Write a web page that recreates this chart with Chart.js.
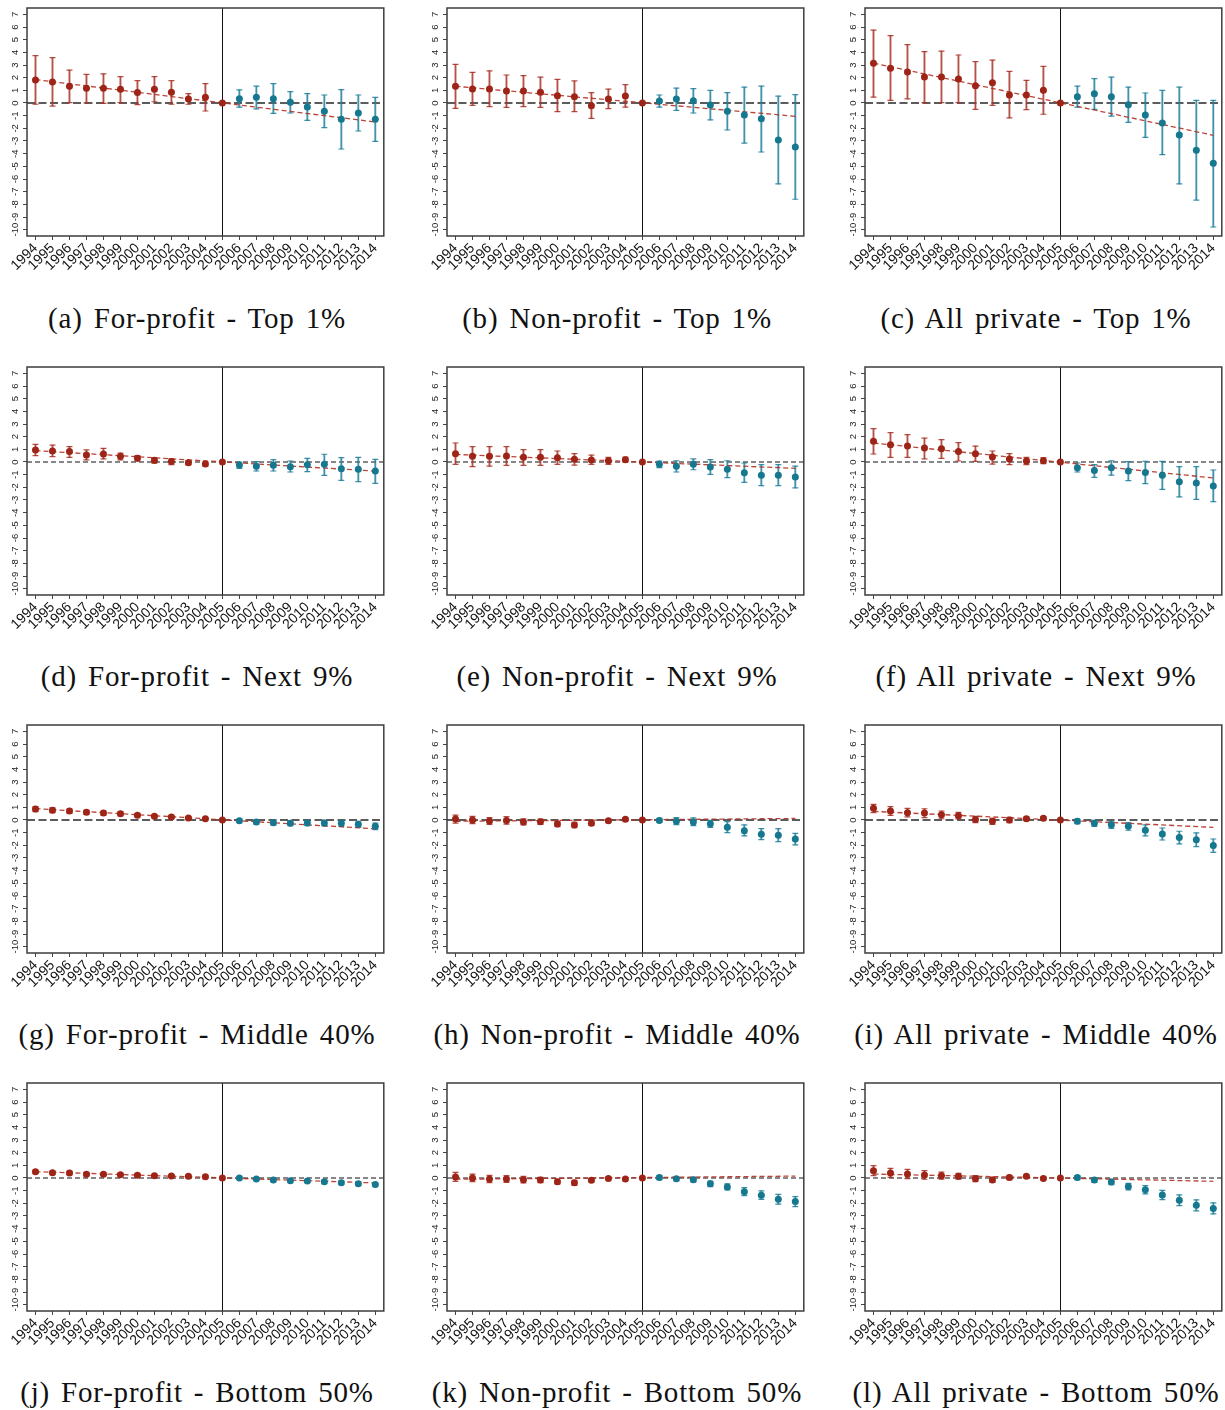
<!DOCTYPE html>
<html>
<head>
<meta charset="utf-8">
<script src="https://cdn.jsdelivr.net/npm/chart.js@4/dist/chart.umd.min.js"></script>
<style>
  html, body { margin: 0; padding: 0; background: #fff; }
  body { width: 1225px; height: 1410px; position: relative; overflow: hidden; }
  canvas.panel { position: absolute; }
  .caption {
    position: absolute; width: 440px; text-align: center;
    font-family: "Liberation Serif", "DejaVu Serif", serif; font-size: 29px;
    letter-spacing: 0.8px; word-spacing: 3px;
    color: #111; line-height: 32px; white-space: nowrap;
  }
</style>
</head>
<body>
<script>
// ---- axis values ----
const years = ['1994','1995','1996','1997','1998','1999','2000','2001','2002','2003','2004',
               '2005','2006','2007','2008','2009','2010','2011','2012','2013','2014'];
const eventYear = '2005';
const yTicks = [-10,-9,-8,-7,-6,-5,-4,-3,-2,-1,0,1,2,3,4,5,6,7];

// ---- estimates, confidence bounds and pre-trend line (start 1994, end 2014) ----
// (a) For-profit - Top 1%
const fpTop1    = [1.82,1.66,1.32,1.16,1.16,1.08,0.82,1.08,0.84,0.32,0.45,0,0.34,0.45,0.34,0.05,-0.32,-0.66,-1.29,-0.79,-1.29];
const fpTop1Hi  = [3.74,3.58,2.6,2.26,2.3,2.08,1.76,2.08,1.76,0.74,1.53,null,1.03,1.34,1.53,0.9,0.74,0.63,1.05,0.63,0.45];
const fpTop1Lo  = [-0.1,-0.24,0.03,0.0,-0.03,0.03,-0.13,0.1,-0.1,-0.1,-0.63,null,-0.32,-0.47,-0.82,-0.79,-1.37,-1.95,-3.63,-2.21,-3.03];
const fpTop1Trend = [1.85,-1.5];
// (b) Non-profit - Top 1%
const npTop1    = [1.32,1.1,1.1,0.95,0.95,0.84,0.58,0.5,-0.21,0.32,0.55,0,0.16,0.32,0.18,-0.16,-0.66,-0.95,-1.24,-2.92,-3.47];
const npTop1Hi  = [3.05,2.42,2.53,2.21,2.16,2.05,1.87,1.74,0.82,1.1,1.45,null,0.63,1.18,1.13,1.0,0.82,1.26,1.34,0.55,0.66];
const npTop1Lo  = [-0.42,-0.18,-0.29,-0.34,-0.29,-0.34,-0.68,-0.68,-1.21,-0.45,-0.32,null,-0.32,-0.58,-0.79,-1.34,-2.13,-3.16,-3.87,-6.39,-7.6];
const npTop1Trend = [1.32,-1.05];
// (c) All private - Top 1%
const apTop1    = [3.13,2.74,2.45,2.05,2.05,1.89,1.37,1.6,0.63,0.63,1.0,0,0.5,0.74,0.5,-0.13,-0.95,-1.58,-2.53,-3.74,-4.76];
const apTop1Hi  = [5.76,5.32,4.61,4.05,4.1,3.79,3.26,3.39,2.5,1.79,2.89,null,1.34,1.92,2.05,1.26,0.79,1.0,1.26,0.21,0.21];
const apTop1Lo  = [0.47,0.21,0.32,0.03,0.03,0.03,-0.5,-0.18,-1.18,-0.53,-0.89,null,-0.32,-0.5,-1.03,-1.53,-2.71,-4.08,-6.39,-7.66,-9.79];
const apTop1Trend = [3.15,-2.55];
// (d) For-profit - Next 9%
const fpNext9   = [0.95,0.87,0.82,0.55,0.63,0.45,0.29,0.13,0.03,-0.05,-0.16,0,-0.24,-0.34,-0.26,-0.37,-0.21,-0.18,-0.53,-0.58,-0.71];
const fpNext9Hi = [1.39,1.34,1.21,0.95,1.08,0.71,0.5,0.32,0.24,0.1,0.0,null,0.0,0.03,0.18,0.08,0.29,0.61,0.34,0.37,0.21];
const fpNext9Lo = [0.5,0.42,0.37,0.16,0.24,0.16,0.08,-0.1,-0.21,-0.21,-0.32,null,-0.5,-0.71,-0.71,-0.79,-0.76,-1.05,-1.45,-1.55,-1.68];
const fpNext9Trend = [0.9,-0.72];
// (e) Non-profit - Next 9%
const npNext9   = [0.66,0.45,0.45,0.47,0.37,0.37,0.34,0.21,0.16,0.1,0.18,0,-0.18,-0.34,-0.18,-0.39,-0.58,-0.84,-1.05,-1.05,-1.18];
const npNext9Hi = [1.5,1.21,1.21,1.21,0.97,0.97,0.87,0.66,0.55,0.37,0.39,null,0.08,0.1,0.24,0.18,0.1,-0.08,-0.21,-0.21,-0.32];
const npNext9Lo = [-0.18,-0.37,-0.32,-0.26,-0.26,-0.26,-0.18,-0.24,-0.18,-0.18,0.0,null,-0.45,-0.79,-0.61,-0.97,-1.24,-1.61,-1.87,-1.87,-2.05];
const npNext9Trend = [0.6,-0.5];
// (f) All private - Next 9%
const apNext9   = [1.63,1.37,1.26,1.1,1.05,0.82,0.66,0.39,0.24,0.08,0.1,0,-0.45,-0.68,-0.45,-0.71,-0.82,-1.05,-1.55,-1.66,-1.89];
const apNext9Hi = [2.63,2.32,2.16,1.89,1.76,1.53,1.26,0.87,0.66,0.37,0.34,null,-0.08,-0.21,0.1,0.03,0.05,0.05,-0.37,-0.37,-0.63];
const apNext9Lo = [0.63,0.37,0.37,0.24,0.29,0.08,0.05,-0.16,-0.21,-0.21,-0.13,null,-0.79,-1.21,-1.03,-1.47,-1.71,-2.16,-2.76,-2.95,-3.13];
const apNext9Trend = [1.5,-1.26];
// (g) For-profit - Middle 40%
const fpMid40   = [0.87,0.76,0.71,0.61,0.55,0.5,0.37,0.29,0.24,0.16,0.1,0,-0.05,-0.16,-0.21,-0.26,-0.24,-0.24,-0.26,-0.34,-0.5];
const fpMid40Hi = [1.05,0.95,0.87,0.76,0.71,0.66,0.5,0.42,0.37,0.26,0.21,null,0.08,0.0,-0.03,-0.08,-0.03,-0.03,-0.05,-0.1,-0.24];
const fpMid40Lo = [0.66,0.58,0.53,0.45,0.39,0.34,0.24,0.16,0.1,0.05,0.0,null,-0.18,-0.32,-0.39,-0.45,-0.45,-0.47,-0.5,-0.58,-0.76];
const fpMid40Trend = [0.9,-0.7];
// (h) Non-profit - Middle 40%
const npMid40   = [0.08,0.0,-0.08,-0.03,-0.16,-0.13,-0.32,-0.39,-0.26,-0.05,0.05,0,-0.03,-0.1,-0.16,-0.29,-0.58,-0.84,-1.13,-1.21,-1.5];
const npMid40Hi = [0.39,0.29,0.18,0.26,0.1,0.08,-0.13,-0.18,-0.1,0.08,0.16,null,0.13,0.18,0.16,-0.03,-0.13,-0.39,-0.68,-0.68,-1.05];
const npMid40Lo = [-0.24,-0.29,-0.34,-0.32,-0.39,-0.34,-0.53,-0.61,-0.42,-0.18,-0.05,null,-0.18,-0.37,-0.45,-0.58,-1.0,-1.26,-1.55,-1.71,-1.97];
const npMid40Trend = [-0.1,0.12];
// (i) All private - Middle 40%
const apMid40   = [0.92,0.71,0.58,0.55,0.42,0.34,0.03,-0.1,0.0,0.1,0.13,0,-0.1,-0.26,-0.37,-0.5,-0.81,-1.1,-1.39,-1.55,-2.02];
const apMid40Hi = [1.23,1.05,0.92,0.89,0.71,0.6,0.29,0.13,0.21,0.24,0.26,null,0.08,-0.03,-0.1,-0.21,-0.39,-0.63,-0.89,-1.02,-1.5];
const apMid40Lo = [0.58,0.37,0.24,0.18,0.1,0.08,-0.21,-0.34,-0.21,-0.03,0.0,null,-0.29,-0.5,-0.66,-0.81,-1.26,-1.58,-1.89,-2.1,-2.55];
const apMid40Trend = [0.68,-0.58];
// (j) For-profit - Bottom 50%
const fpBot50   = [0.5,0.42,0.39,0.29,0.29,0.26,0.21,0.18,0.16,0.13,0.1,0,0.0,-0.08,-0.16,-0.21,-0.24,-0.29,-0.37,-0.45,-0.52];
const fpBot50Hi = [0.63,0.55,0.52,0.42,0.39,0.37,0.31,0.29,0.26,0.24,0.21,null,0.08,0.03,-0.05,-0.1,-0.13,-0.16,-0.24,-0.31,-0.39];
const fpBot50Lo = [0.37,0.29,0.26,0.18,0.18,0.16,0.1,0.08,0.05,0.03,0.0,null,-0.08,-0.18,-0.26,-0.31,-0.34,-0.42,-0.5,-0.58,-0.66];
const fpBot50Trend = [0.5,-0.39];
// (k) Non-profit - Bottom 50%
const npBot50   = [0.08,0.0,-0.08,-0.08,-0.13,-0.16,-0.29,-0.37,-0.18,-0.03,-0.08,0,0.03,-0.05,-0.13,-0.45,-0.71,-1.08,-1.37,-1.68,-1.86];
const npBot50Hi = [0.45,0.31,0.21,0.18,0.13,0.05,-0.1,-0.18,-0.05,0.1,0.03,null,0.18,0.1,0.05,-0.24,-0.47,-0.76,-1.02,-1.29,-1.47];
const npBot50Lo = [-0.26,-0.29,-0.37,-0.34,-0.39,-0.37,-0.47,-0.58,-0.31,-0.13,-0.18,null,-0.13,-0.21,-0.31,-0.68,-0.94,-1.39,-1.68,-2.07,-2.26];
const npBot50Trend = [-0.1,0.15];
// (l) All private - Bottom 50%
const apBot50   = [0.58,0.39,0.31,0.24,0.18,0.13,-0.05,-0.16,0.03,0.13,-0.03,0,0.03,-0.16,-0.31,-0.68,-0.92,-1.34,-1.76,-2.15,-2.41];
const apBot50Hi = [0.97,0.76,0.68,0.58,0.47,0.37,0.18,0.05,0.21,0.24,0.1,null,0.18,0.03,-0.1,-0.42,-0.6,-0.97,-1.34,-1.73,-1.97];
const apBot50Lo = [0.18,0.05,-0.05,-0.1,-0.1,-0.1,-0.29,-0.34,-0.13,0.0,-0.13,null,-0.13,-0.34,-0.52,-0.94,-1.26,-1.71,-2.18,-2.6,-2.83];
const apBot50Trend = [0.31,-0.26];

// ---- captions ----
const captions = [
  '(a) For-profit - Top 1%',     '(b) Non-profit - Top 1%',     '(c) All private - Top 1%',
  '(d) For-profit - Next 9%',    '(e) Non-profit - Next 9%',    '(f) All private - Next 9%',
  '(g) For-profit - Middle 40%', '(h) Non-profit - Middle 40%', '(i) All private - Middle 40%',
  '(j) For-profit - Bottom 50%', '(k) Non-profit - Bottom 50%', '(l) All private - Bottom 50%'
];

const series = [
  [fpTop1, fpTop1Lo, fpTop1Hi, fpTop1Trend], [npTop1, npTop1Lo, npTop1Hi, npTop1Trend], [apTop1, apTop1Lo, apTop1Hi, apTop1Trend],
  [fpNext9, fpNext9Lo, fpNext9Hi, fpNext9Trend], [npNext9, npNext9Lo, npNext9Hi, npNext9Trend], [apNext9, apNext9Lo, apNext9Hi, apNext9Trend],
  [fpMid40, fpMid40Lo, fpMid40Hi, fpMid40Trend], [npMid40, npMid40Lo, npMid40Hi, npMid40Trend], [apMid40, apMid40Lo, apMid40Hi, apMid40Trend],
  [fpBot50, fpBot50Lo, fpBot50Hi, fpBot50Trend], [npBot50, npBot50Lo, npBot50Hi, npBot50Trend], [apBot50, apBot50Lo, apBot50Hi, apBot50Trend]
];

// ---- page geometry ----
const colPlotLeft = [27, 447, 865];
const rowPlotTop = [8, 367, 725, 1083];
const plotW = 360, plotH = 228;
const padLeft = 27, padTop = 8, axisBelow = 46, padRight = 2;
const captionCenterX = [197, 617, 1036];
const captionCenterY = [318, 676, 1034, 1392];

// ---- styles ----
const RED = '#9e2417', RED_BAR = 'rgba(168,50,38,0.85)';
const BLUE = '#16788f', BLUE_BAR = 'rgba(30,128,155,0.85)';
const TREND = 'rgba(178,48,36,0.9)';
const zeroStyles = [
  { color: '#5c5c5c', width: 2, dash: [8, 3.5] },
  { color: '#111111', width: 1.1, dash: [5, 3] },
  { color: '#5c5c5c', width: 2, dash: [8, 3.5] },
  { color: '#111111', width: 1.1, dash: [5, 3] }
];

const eventIdx = years.indexOf(eventYear);
const dotColors = years.map((y, i) => i <= eventIdx ? RED : BLUE);
const barColors = years.map((y, i) => i < eventIdx ? RED_BAR : BLUE_BAR);

// reference lines: dashed zero line and solid line at the event year
const refLines = {
  id: 'refLines',
  beforeDatasetsDraw(chart, args, opts) {
    const { ctx, chartArea: a, scales: { x, y } } = chart;
    ctx.save();
    const y0 = y.getPixelForValue(0);
    ctx.strokeStyle = opts.zeroColor; ctx.lineWidth = opts.zeroWidth;
    ctx.setLineDash(opts.zeroDash);
    ctx.beginPath(); ctx.moveTo(a.left, y0); ctx.lineTo(a.right, y0); ctx.stroke();
    ctx.setLineDash([]);
    const xe = Math.round(x.getPixelForValue(eventIdx)) + 0.5;
    ctx.strokeStyle = '#111'; ctx.lineWidth = 1;
    ctx.beginPath(); ctx.moveTo(xe, a.top); ctx.lineTo(xe, a.bottom); ctx.stroke();
    ctx.restore();
  }
};
// box around the plotting region
const frame = {
  id: 'frame',
  afterDatasetsDraw(chart) {
    const { ctx, chartArea: a } = chart;
    ctx.save();
    ctx.strokeStyle = '#3d3d3d'; ctx.lineWidth = 1.5;
    ctx.strokeRect(a.left, a.top, a.right - a.left, a.bottom - a.top);
    ctx.restore();
  }
};

series.forEach(([est, lo, hi, trend], p) => {
  const row = Math.floor(p / 3), col = p % 3;
  const cv = document.createElement('canvas');
  cv.className = 'panel';
  const W = padLeft + plotW + padRight, H = padTop + plotH + axisBelow;
  cv.width = W; cv.height = H;
  cv.style.left = (colPlotLeft[col] - padLeft) + 'px';
  cv.style.top = (rowPlotTop[row] - padTop) + 'px';
  document.body.appendChild(cv);

  const cap = document.createElement('div');
  cap.className = 'caption';
  cap.textContent = captions[p];
  cap.style.left = (captionCenterX[col] - 220) + 'px';
  cap.style.top = (captionCenterY[row] - 16) + 'px';
  document.body.appendChild(cap);

  const z = zeroStyles[row];
  new Chart(cv, {
    type: 'bar',
    data: {
      labels: years,
      datasets: [
        { // point estimates
          type: 'line', data: est, showLine: false, order: 0,
          pointRadius: 3.5, pointBorderWidth: 0,
          pointBackgroundColor: dotColors, pointBorderColor: dotColors
        },
        { // pre-trend extrapolation
          type: 'line', order: 1,
          data: [{ x: years[0], y: trend[0] }, { x: years[years.length - 1], y: trend[1] }],
          borderColor: TREND, borderWidth: 1.3, borderDash: [5, 3],
          pointRadius: 0, fill: false
        },
        { // upper caps
          type: 'line', data: hi, showLine: false, order: 2,
          pointStyle: 'line', pointRadius: 3, pointBorderWidth: 1.2,
          pointBorderColor: barColors
        },
        { // lower caps
          type: 'line', data: lo, showLine: false, order: 2,
          pointStyle: 'line', pointRadius: 3, pointBorderWidth: 1.2,
          pointBorderColor: barColors
        },
        { // confidence interval stems
          type: 'bar', order: 3,
          data: years.map((y, i) => lo[i] === null ? null : [lo[i], hi[i]]),
          backgroundColor: barColors, borderWidth: 0, barThickness: 1.2
        }
      ]
    },
    options: {
      responsive: false, animation: false, events: [],
      layout: { padding: { left: 0, top: padTop, right: padRight, bottom: 0 } },
      plugins: {
        legend: { display: false }, tooltip: { enabled: false },
        refLines: { zeroColor: z.color, zeroWidth: z.width, zeroDash: z.dash }
      },
      scales: {
        x: {
          type: 'category', offset: true,
          grid: { display: true, drawOnChartArea: false, offset: false, tickLength: 4, tickColor: '#444' },
          border: { display: false },
          ticks: {
            autoSkip: false, minRotation: 45, maxRotation: 45, padding: 0,
            color: '#111', font: { family: 'Liberation Sans', size: 14 }
          },
          afterFit(s) { s.height = axisBelow; }
        },
        y: {
          min: -10.5, max: 7.5,
          grid: { display: true, drawOnChartArea: false, tickLength: 4, tickColor: '#444' },
          border: { display: false },
          afterBuildTicks(s) { s.ticks = yTicks.map(v => ({ value: v })); },
          ticks: {
            autoSkip: false, minRotation: 90, maxRotation: 90, crossAlign: 'center', padding: 1,
            color: '#222', font: { family: 'Liberation Sans', size: 9.5 }
          },
          afterFit(s) { s.width = padLeft; }
        }
      }
    },
    plugins: [refLines, frame]
  });
});
</script>
</body>
</html>
